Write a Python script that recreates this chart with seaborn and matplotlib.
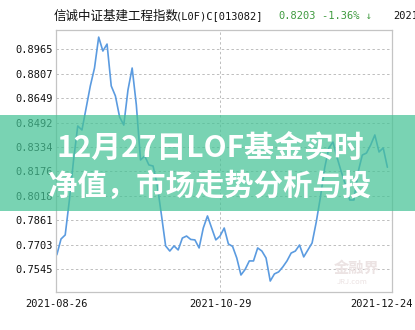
import matplotlib
matplotlib.use("Agg")
import matplotlib.pyplot as plt
import matplotlib.transforms as mtransforms
from matplotlib.patches import Rectangle
import seaborn as sns
import pandas as pd

# Daily net asset value, 2021-08-26 .. 2021-12-24 (80 trading days)
nav = [
    0.7637, 0.7739, 0.7765, 0.7991, 0.8250, 0.8470, 0.8444, 0.8586, 0.8729, 0.8845,
    0.9045, 0.8955, 0.9000, 0.8729, 0.8664, 0.8528, 0.8476, 0.8703, 0.8845, 0.8606,
    0.8250, 0.8276, 0.8218, 0.8211, 0.8088, 0.7894, 0.7694, 0.7661, 0.7694, 0.7668,
    0.7745, 0.7758, 0.7736, 0.7733, 0.7681, 0.7810, 0.7888, 0.7810, 0.7733, 0.7758,
    0.7810, 0.7707, 0.7691, 0.7616, 0.7506, 0.7542, 0.7597, 0.7597, 0.7681, 0.7661,
    0.7616, 0.7467, 0.7513, 0.7526, 0.7558, 0.7597, 0.7648, 0.7661, 0.7700, 0.7623,
    0.7668, 0.7713, 0.7849, 0.8011, 0.8198, 0.8328, 0.8366, 0.8263, 0.8172, 0.8088,
    0.7991, 0.7991, 0.8172, 0.8282, 0.8295, 0.8347, 0.8412, 0.8302, 0.8328, 0.8203,
]
date_ticks = [0, 39, 79]
date_labels = ["2021-08-26", "2021-10-29", "2021-12-24"]
y_ticks = [0.7545, 0.7703, 0.7861, 0.8018, 0.8176, 0.8334, 0.8492, 0.8649, 0.8807, 0.8965]

fund_name = "信诚中证基建工程指数"
fund_code = "(L0F)C[013082]"
last_nav = "0.8203"
change = "-1.36% ↓"
headline_1 = "12月27日LOF基金实时"
headline_2 = "净值，市场走势分析与投"

sns.set_theme(style="white")
plt.rcParams["font.family"] = ["Noto Sans CJK SC", "DejaVu Sans"]

df = pd.DataFrame({"day": range(len(nav)), "nav": nav})

fig = plt.figure(figsize=(4.15, 3.30), dpi=100)
fig.patch.set_facecolor("white")
ax = fig.add_axes([56 / 415, 1 - 292 / 330, 336 / 415, 262 / 330])

sns.lineplot(data=df, x="day", y="nav", ax=ax, color="#5b9be0", linewidth=1.2)

ax.set_xlim(-0.2, 80.1)
ax.set_ylim(0.7396, 0.9091)
ax.set_xlabel("")
ax.set_ylabel("")

mono = "DejaVu Sans Mono"
ax.set_yticks(y_ticks)
ax.set_yticklabels([f"{v:.4f}" for v in y_ticks], family=mono, fontsize=7.5, color="#111111")
ax.set_xticks(date_ticks)
ax.set_xticklabels(date_labels, family=mono, fontsize=7.5, color="#111111")
ax.tick_params(axis="both", length=0)
ax.tick_params(axis="y", pad=2.5)
ax.tick_params(axis="x", pad=5)
# keep the last date label inside the canvas
last = ax.get_xticklabels()[-1]
last.set_transform(last.get_transform() + mtransforms.ScaledTranslation(-5.5 / 100, 0, fig.dpi_scale_trans))

for y in y_ticks:
    ax.axhline(y, color="#bdbdbd", linewidth=0.7, linestyle=(0, (2.5, 2.5)), zorder=0)
ax.axvline(39, color="#bdbdbd", linewidth=0.7, linestyle=(0, (2.5, 2.5)), zorder=0)

for s in ax.spines.values():
    s.set_color("#c4c4c4")
    s.set_linewidth(0.9)

# header line
fig.text(54 / 415, 1 - 16 / 330, fund_name, fontsize=9, color="#111111", va="center", ha="left")
fig.text(176 / 415, 1 - 16 / 330, fund_code, family=mono, fontsize=7.5, color="#111111", va="center", ha="left")
fig.text(278 / 415, 1 - 16 / 330, last_nav, family=mono, fontsize=7.5, color="#3f9a3f", va="center", ha="left")
fig.text(322 / 415, 1 - 16 / 330, change, family=[mono, "Noto Sans CJK SC"], fontsize=7.5, color="#3f9a3f", va="center", ha="left")
fig.text(393 / 415, 1 - 16 / 330, "2021-12-24", family=mono, fontsize=7.5, color="#111111", va="center", ha="left")

# watermark
fig.text(357 / 415, 1 - 268 / 330, "金融界", fontsize=11, color="#ece3e3", ha="center", va="center", fontweight="bold")
fig.text(352 / 415, 1 - 282 / 330, "JRJ.com", fontsize=5.5, color="#ece3e3", ha="center", va="center", style="italic")

# headline banner
fig.patches.append(Rectangle((0, 1 - 211 / 330), 1, 96 / 330, transform=fig.transFigure,
                             facecolor="#46c396", alpha=0.72, edgecolor="none", zorder=5))
fig.text(210 / 415, 1 - 149 / 330, headline_1, fontsize=21.5, fontweight="bold", color="white",
         ha="center", va="center", zorder=6)
fig.text(210 / 415, 1 - 186 / 330, headline_2, fontsize=21.2, fontweight="bold", color="white",
         ha="center", va="center", zorder=6)

fig.savefig("out.png", dpi=100)
